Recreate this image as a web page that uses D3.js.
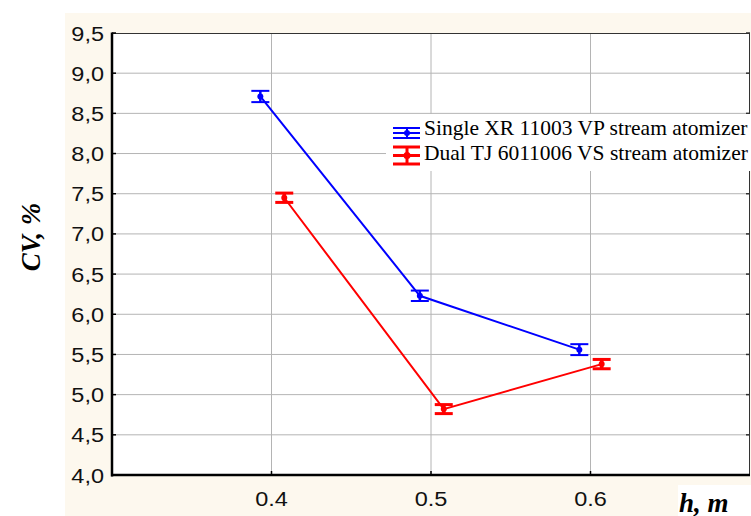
<!DOCTYPE html>
<html>
<head>
<meta charset="utf-8">
<script src="https://cdn.jsdelivr.net/npm/d3@7/dist/d3.min.js"></script>
<style>
  html, body { margin: 0; padding: 0; background: #ffffff; }
  svg { display: block; }
</style>
</head>
<body>
<script>
// ---------- data ----------
const hTicks = [0.4, 0.5, 0.6];
const hTickLabels = ["0.4", "0.5", "0.6"];
const cvTicks = [4.0, 4.5, 5.0, 5.5, 6.0, 6.5, 7.0, 7.5, 8.0, 8.5, 9.0, 9.5];
const cvTickLabels = ["4,0", "4,5", "5,0", "5,5", "6,0", "6,5", "7,0", "7,5", "8,0", "8,5", "9,0", "9,5"];

const seriesNames = ["Single XR 11003 VP stream atomizer", "Dual TJ 6011006 VS stream atomizer"];
const singleH = [0.393, 0.493, 0.593];
const singleCV = [8.71, 6.23, 5.56];
const singleErr = [0.07, 0.065, 0.068];
const dualH = [0.408, 0.508, 0.607];
const dualCV = [7.45, 4.82, 5.38];
const dualErr = [0.058, 0.056, 0.058];

const xTitle = "h, m";
const yTitle = "CV, %";

// ---------- layout ----------
const W = 751, H = 516;
const plot = { left: 112, right: 750, top: 33, bottom: 475 };

const svg = d3.select("body").append("svg").attr("width", W).attr("height", H);

// beige background panel
svg.append("rect").attr("x", 65).attr("y", 13).attr("width", W - 65).attr("height", H - 13).attr("fill", "#fdf8ee");
// plot area
svg.append("rect").attr("x", plot.left).attr("y", plot.top)
  .attr("width", plot.right - plot.left).attr("height", plot.bottom - plot.top).attr("fill", "#ffffff");

const x = d3.scaleLinear().domain([0.3, 0.7]).range([plot.left, plot.right]);
const y = d3.scaleLinear().domain([4.0, 9.5]).range([plot.bottom, plot.top]);

// grid lines
const grid = svg.append("g");
grid.selectAll("line.gx").data(hTicks).join("line")
  .attr("x1", d => x(d)).attr("x2", d => x(d))
  .attr("y1", plot.top).attr("y2", plot.bottom)
  .attr("stroke", "#b4b4b4").attr("stroke-width", 1);
grid.selectAll("line.gy").data(cvTicks.filter(d => d > 4.0 && d < 9.5)).join("line")
  .attr("x1", plot.left).attr("x2", plot.right)
  .attr("y1", d => y(d)).attr("y2", d => y(d))
  .attr("stroke", "#b4b4b4").attr("stroke-width", 1);

// frame: top & right thin
svg.append("line").attr("x1", plot.left).attr("x2", plot.right).attr("y1", plot.top + 0.5).attr("y2", plot.top + 0.5)
  .attr("stroke", "#333").attr("stroke-width", 1);
svg.append("line").attr("x1", plot.right - 0.5).attr("x2", plot.right - 0.5).attr("y1", plot.top).attr("y2", plot.bottom)
  .attr("stroke", "#333").attr("stroke-width", 1);

// inward ticks
const tk = svg.append("g");
tk.selectAll("line.tl").data(cvTicks).join("line")
  .attr("x1", plot.left).attr("x2", plot.left + 4).attr("y1", d => y(d)).attr("y2", d => y(d))
  .attr("stroke", "#000").attr("stroke-width", 1.5);
tk.selectAll("line.tr").data(cvTicks).join("line")
  .attr("x1", plot.right - 4).attr("x2", plot.right).attr("y1", d => y(d)).attr("y2", d => y(d))
  .attr("stroke", "#333").attr("stroke-width", 1.5);
tk.selectAll("line.tb").data(hTicks).join("line")
  .attr("x1", d => x(d)).attr("x2", d => x(d)).attr("y1", plot.bottom - 4).attr("y2", plot.bottom)
  .attr("stroke", "#000").attr("stroke-width", 1.5);

// thick left & bottom axes
svg.append("line").attr("x1", plot.left).attr("x2", plot.left).attr("y1", plot.top - 0.5).attr("y2", plot.bottom + 1.5)
  .attr("stroke", "#000").attr("stroke-width", 2.5);
svg.append("line").attr("x1", plot.left - 1).attr("x2", plot.right).attr("y1", plot.bottom).attr("y2", plot.bottom)
  .attr("stroke", "#000").attr("stroke-width", 2.5);

// tick labels
const tickFont = "'Liberation Sans', Arial, sans-serif";
svg.selectAll("text.yl").data(cvTicks).join("text")
  .attr("transform", d => `translate(${plot.left - 8},${y(d) + 7.5}) scale(1.12,1)`)
  .attr("text-anchor", "end")
  .attr("font-family", tickFont).attr("font-size", 21).attr("fill", "#111")
  .text((d, i) => cvTickLabels[i]);
svg.selectAll("text.xl").data(hTicks).join("text")
  .attr("transform", d => `translate(${x(d)},${505.5}) scale(1.12,1)`)
  .attr("text-anchor", "middle")
  .attr("font-family", tickFont).attr("font-size", 21).attr("fill", "#111")
  .text((d, i) => hTickLabels[i]);

// ---------- series ----------
function drawSeries(hs, cvs, errs, color, lw, capW, capLw, dotR) {
  const pts = hs.map((h, i) => ({ h, v: cvs[i], e: errs[i] }));
  const g = svg.append("g");
  g.append("path").datum(pts)
    .attr("d", d3.line().x(d => x(d.h)).y(d => y(d.v)))
    .attr("fill", "none").attr("stroke", color).attr("stroke-width", lw);
  const eb = g.selectAll("g.eb").data(pts).join("g");
  eb.append("line").attr("x1", d => x(d.h)).attr("x2", d => x(d.h))
    .attr("y1", d => y(d.v + d.e)).attr("y2", d => y(d.v - d.e))
    .attr("stroke", color).attr("stroke-width", capLw + 0.5);
  eb.append("line").attr("x1", d => x(d.h) - capW / 2).attr("x2", d => x(d.h) + capW / 2)
    .attr("y1", d => y(d.v + d.e)).attr("y2", d => y(d.v + d.e))
    .attr("stroke", color).attr("stroke-width", capLw);
  eb.append("line").attr("x1", d => x(d.h) - capW / 2).attr("x2", d => x(d.h) + capW / 2)
    .attr("y1", d => y(d.v - d.e)).attr("y2", d => y(d.v - d.e))
    .attr("stroke", color).attr("stroke-width", capLw);
  eb.append("circle").attr("cx", d => x(d.h)).attr("cy", d => y(d.v)).attr("r", dotR).attr("fill", color);
}
drawSeries(singleH, singleCV, singleErr, "#0000ff", 2, 18, 2, 3);
drawSeries(dualH, dualCV, dualErr, "#ff0000", 2, 18, 3, 3);

// ---------- legend ----------
svg.append("rect").attr("x", 386).attr("y", 114).attr("width", W - 386).attr("height", 57).attr("fill", "#ffffff");
const legendItems = [
  { name: seriesNames[0], color: "#0000ff", top: 128, mid: 133, bot: 138, lw: 2, r: 3, base: 135 },
  { name: seriesNames[1], color: "#ff0000", top: 147, mid: 155.5, bot: 164, lw: 3, r: 3.5, base: 160 }
];
const lg = svg.selectAll("g.lg").data(legendItems).join("g");
lg.append("line").attr("x1", 393).attr("x2", 420).attr("y1", d => d.top).attr("y2", d => d.top)
  .attr("stroke", d => d.color).attr("stroke-width", d => d.lw);
lg.append("line").attr("x1", 393).attr("x2", 420).attr("y1", d => d.mid).attr("y2", d => d.mid)
  .attr("stroke", d => d.color).attr("stroke-width", d => d.lw);
lg.append("line").attr("x1", 393).attr("x2", 420).attr("y1", d => d.bot).attr("y2", d => d.bot)
  .attr("stroke", d => d.color).attr("stroke-width", d => d.lw);
lg.append("line").attr("x1", 407).attr("x2", 407).attr("y1", d => d.top).attr("y2", d => d.bot)
  .attr("stroke", d => d.color).attr("stroke-width", d => d.lw);
lg.append("circle").attr("cx", 407).attr("cy", d => d.mid).attr("r", d => d.r).attr("fill", d => d.color);
lg.append("text").attr("x", 424).attr("y", d => d.base)
  .attr("font-family", "'Liberation Serif', 'Times New Roman', serif").attr("font-size", 21.5).attr("fill", "#000")
  .text(d => d.name);

// ---------- axis titles ----------
svg.append("rect").attr("x", 678).attr("y", 485).attr("width", W - 678).attr("height", H - 485).attr("fill", "#ffffff");
svg.append("text").attr("x", 679).attr("y", 511.5)
  .attr("font-family", "'Liberation Serif', 'Times New Roman', serif").attr("font-size", 27)
  .attr("font-weight", "bold").attr("font-style", "italic").attr("fill", "#000")
  .text(xTitle);
svg.append("text").attr("transform", "translate(40,237) rotate(-90)")
  .attr("text-anchor", "middle")
  .attr("font-family", "'Liberation Serif', 'Times New Roman', serif").attr("font-size", 27)
  .attr("font-weight", "bold").attr("font-style", "italic").attr("fill", "#000")
  .text(yTitle);
</script>
</body>
</html>
